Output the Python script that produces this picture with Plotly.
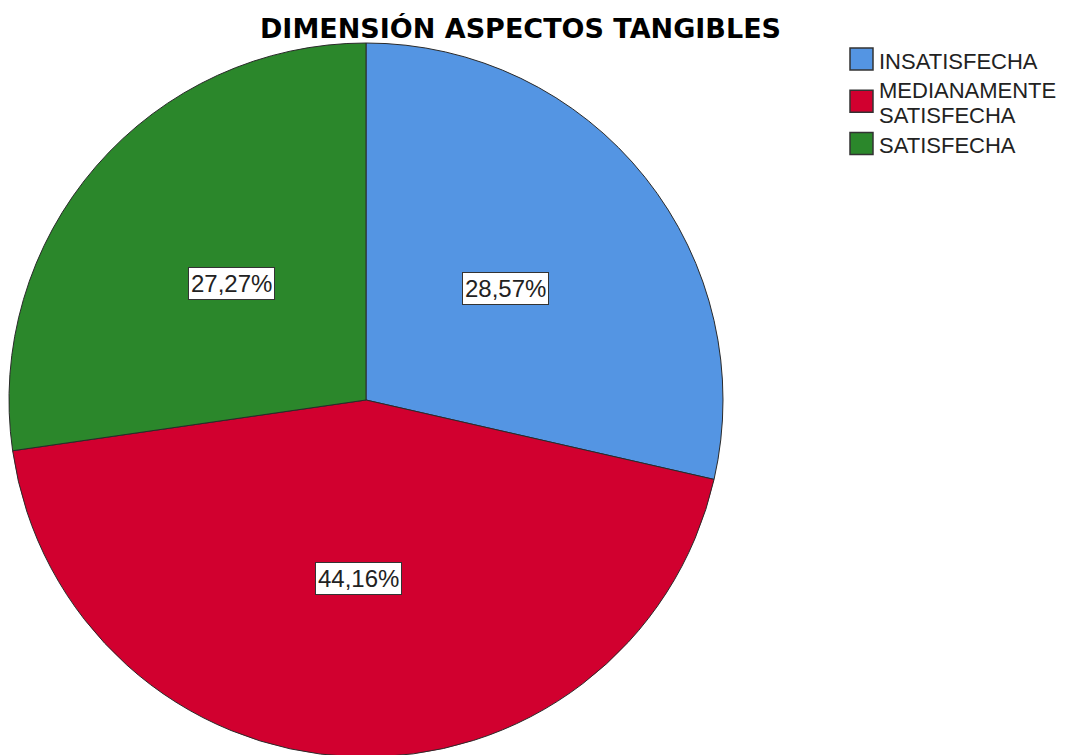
import math
import plotly.graph_objects as go

categories = ["INSATISFECHA", "MEDIANAMENTE SATISFECHA", "SATISFECHA"]
legend_lines = [["INSATISFECHA"], ["MEDIANAMENTE", "SATISFECHA"], ["SATISFECHA"]]
values = [28.57, 44.16, 27.27]
colors = ["#5495E3", "#D1002F", "#2B872B"]

W, H = 1081, 755
OFF = 8  # page body margin in the browser
cx, cy, R = 366 - OFF, 400 - OFF, 357


def px(x):
    return x / W


def py(y):
    return 1 - y / H


fig = go.Figure()
fig.add_trace(go.Pie(
    labels=categories,
    values=values,
    sort=False,
    direction="clockwise",
    rotation=0,
    marker=dict(colors=colors, line=dict(color="#2a2a2a", width=1)),
    textinfo="none",
    hoverinfo="label+percent",
    showlegend=False,
    domain=dict(x=[px(cx - R), px(cx + R)], y=[py(cy + R), py(cy - R)]),
))

total = sum(values)
cum = 0.0
annotations = []
for v in values:
    mid = (cum + v / 2) / total * 2 * math.pi
    cum += v
    lx = cx + 0.5 * R * math.sin(mid)
    ly = cy - 0.5 * R * math.cos(mid)
    annotations.append(dict(
        x=px(lx), y=py(ly), xref="paper", yref="paper",
        xanchor="center", yanchor="middle",
        text=f"{v:.2f}%".replace(".", ","), showarrow=False,
        font=dict(family="Liberation Sans", size=24, color="#222222"),
        bgcolor="white", bordercolor="#333333", borderwidth=1, borderpad=2,
    ))

# custom legend (larger swatches like the reference)
shapes = []
line_y = 61 - OFF
sq_x0, sq_x1, txt_x = 850 - OFF, 873 - OFF, 877 - OFF
for i, (lines, col) in enumerate(zip(legend_lines, colors)):
    ys = []
    for j, t in enumerate(lines):
        if j > 0:
            line_y += 25.5
        ys.append(line_y)
        annotations.append(dict(
            x=px(txt_x), y=py(line_y), xref="paper", yref="paper",
            text=t, showarrow=False, xanchor="left", yanchor="middle",
            font=dict(family="Liberation Sans", size=22, color="#222222"),
        ))
    sc = sum(ys) / len(ys) - 2
    shapes.append(dict(type="rect", xref="paper", yref="paper",
                       x0=px(sq_x0), x1=px(sq_x1), y0=py(sc + 11), y1=py(sc - 11),
                       fillcolor=col, line=dict(color="#333333", width=1.5)))
    line_y += 29.5

fig.update_layout(
    width=W, height=H,
    margin=dict(l=0, r=0, t=0, b=0),
    paper_bgcolor="white",
    title=dict(text="<b>DIMENSIÓN ASPECTOS TANGIBLES</b>", x=px(520.5 - OFF), y=py(29 - OFF),
               xanchor="center", yanchor="middle",
               font=dict(family="DejaVu Sans", size=27, color="black")),
    annotations=annotations,
    shapes=shapes,
    showlegend=False,
)

fig.write_html("out.html")
